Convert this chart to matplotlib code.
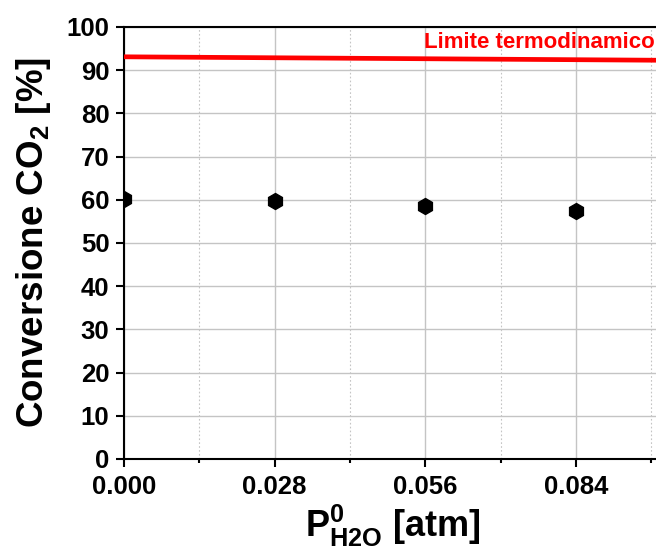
import matplotlib.pyplot as plt
from matplotlib.ticker import MultipleLocator

plt.rcParams['font.family'] = 'Liberation Sans'
plt.rcParams['font.weight'] = 'bold'
plt.rcParams['mathtext.fontset'] = 'custom'
plt.rcParams['mathtext.rm'] = 'Liberation Sans:bold'
plt.rcParams['mathtext.it'] = 'Liberation Sans:bold'
plt.rcParams['mathtext.bf'] = 'Liberation Sans:bold'

# measured conversion vs inlet water partial pressure
p_h2o = [0.000, 0.028, 0.056, 0.084]
conv = [60.1, 59.7, 58.6, 57.3]

# thermodynamic limit
p_lim = [0.000, 0.100]
conv_lim = [93.1, 92.3]

fig = plt.figure(figsize=(6.56, 5.51), dpi=100)
ax = fig.add_axes([124 / 656, 1 - 459 / 551, (662 - 124) / 656, (459 - 27) / 551])

ax.plot(p_lim, conv_lim, color='red', lw=3.4, zorder=3)
ax.plot(p_h2o, conv, 'h', color='black', ms=11.5, zorder=4)

ax.text(0.0558, 94.0, 'Limite termodinamico', color='red', fontsize=16,
        fontweight='bold', ha='left', va='bottom')

ax.set_xlim(0, 0.1)
ax.set_ylim(0, 100)
ax.xaxis.set_major_locator(MultipleLocator(0.028))
ax.xaxis.set_minor_locator(MultipleLocator(0.014))
ax.yaxis.set_major_locator(MultipleLocator(10))
ax.set_xticks([0.0, 0.028, 0.056, 0.084])
ax.set_xticklabels(['0.000', '0.028', '0.056', '0.084'])

ax.grid(which='major', color='#c4c4c4', lw=1.0)
ax.grid(which='minor', axis='x', color='#c4c4c4', lw=0.8, ls=(0, (1.5, 2)))
ax.set_axisbelow(True)

for s in ax.spines.values():
    s.set_linewidth(1.5)
ax.tick_params(which='major', direction='out', length=5.5, width=1.5, labelsize=18.5)
ax.tick_params(axis='x', which='major', pad=6)
ax.tick_params(axis='y', which='major', pad=5)
ax.tick_params(which='minor', direction='out', length=3, width=1.5)

ax.set_ylabel(r'Conversione CO$_2$ [%]', fontsize=26.5, fontweight='bold', labelpad=10)
ax.set_xlabel(r'P$^0_{\mathrm{H2O}}$ [atm]', fontsize=26, fontweight='bold', labelpad=3)

fig.savefig('out.png', dpi=100)
